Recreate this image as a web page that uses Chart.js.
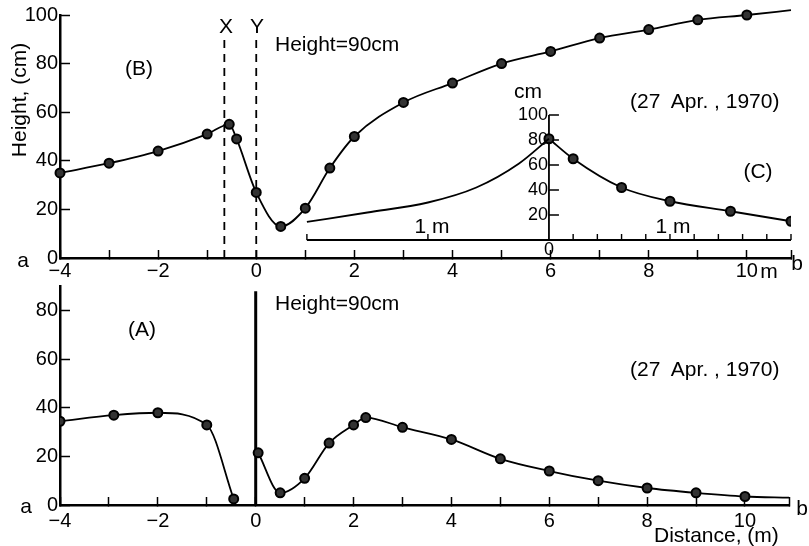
<!DOCTYPE html>
<html>
<head>
<meta charset="utf-8">
<script src="https://cdn.jsdelivr.net/npm/chart.js@4.4.1/dist/chart.umd.min.js"></script>
<style>
body { margin: 0; background: #fff; }
#wrap { position: relative; width: 809px; height: 546px; font-family: "Liberation Sans", Arial, sans-serif; color: #000; }
canvas { position: absolute; left: 0; }
.t { position: absolute; font-size: 21px; line-height: 1; white-space: pre; transform: translate(-50%, -50%); }
.l { transform: translate(0, -50%); }
</style>
</head>
<body>
<div id="wrap">
  <canvas id="topChart" width="809" height="280" style="top:0"></canvas>
  <canvas id="bottomChart" width="809" height="266" style="top:280px"></canvas>

  <div class="t" style="left:18px;top:100px;transform:translate(-50%,-50%) rotate(-90deg)">Height, (cm)</div>
  <div class="t" style="left:139px;top:67px">(B)</div>
  <div class="t" style="left:226px;top:25px">X</div>
  <div class="t" style="left:257px;top:25px">Y</div>
  <div class="t l" style="left:275px;top:43px">Height=90cm</div>
  <div class="t l" style="left:630px;top:100px">(27  Apr. , 1970)</div>
  <div class="t" style="left:758px;top:170px">(C)</div>
  <div class="t" style="left:528px;top:90px">cm</div>
  <div class="t" style="left:432px;top:225px">1 m</div>
  <div class="t" style="left:673px;top:225px">1 m</div>
  <div class="t" style="left:23px;top:259px">a</div>
  <div class="t" style="left:797px;top:262px">b</div>
  <div class="t" style="left:769px;top:270px">m</div>

  <div class="t" style="left:142px;top:328px">(A)</div>
  <div class="t l" style="left:275px;top:302px">Height=90cm</div>
  <div class="t l" style="left:630px;top:368px">(27  Apr. , 1970)</div>
  <div class="t" style="left:26px;top:505px">a</div>
  <div class="t" style="left:802px;top:507px">b</div>
  <div class="t l" style="left:654px;top:534px">Distance, (m)</div>
</div>

<script>
// tick values
const distTicks = [-4, -3, -2, -1, 0, 1, 2, 3, 4, 5, 6, 7, 8, 9, 10, 10.9];
const heightTicks = [0, 10, 20, 30, 40, 50, 60, 70, 80, 90, 100];
const insetTicksX = [-2, -1, 0.2, 0.4, 0.6, 0.8, 1, 1.2, 1.4, 1.6, 1.8, 2];
const insetTicksY = [20, 40, 60, 80, 100];

// (B) profile, top panel
const distB = [-4, -3, -2, -1, -0.55, -0.4, 0, 0.5, 1, 1.5, 2, 3, 4, 5, 6, 7, 8, 9, 10, 10.9];
const heightB = [35, 39, 44, 51, 55, 49, 27, 13, 20.5, 37, 50, 64, 72, 80, 85, 90.5, 94, 98, 100, 102];

// (C) inset, cm against m around the bush
const distCL = [-2, -1.5, -1, -0.6, -0.25, 0];
const heightCL = [14.5, 22, 30, 42, 61, 81];
const distCR = [0, 0.2, 0.6, 1, 1.5, 2];
const heightCR = [81, 65, 42, 31, 23, 15];

// (A) profile, bottom panel (two pieces)
const distA1 = [-4, -2.9, -2, -1, -0.45];
const heightA1 = [34.5, 37, 38, 33, 2.5];
const distA2 = [0.05, 0.5, 1, 1.5, 2, 2.25, 3, 4, 5, 6, 7, 8, 9, 10, 10.9];
const heightA2 = [21.5, 5, 11, 25.5, 33, 36, 32, 27, 19, 14, 10, 7, 5, 3.5, 3];

// X, Y marker lines and wall
const lineX = -0.65, lineY = 0, lineTop = 92;
const wallX = 0, wallTop = 88;

Chart.defaults.font.family = '"Liberation Sans", Arial, sans-serif';
Chart.defaults.font.size = 20;
Chart.defaults.color = '#000';

const pts = (xs, ys) => xs.map((x, i) => ({ x: x, y: ys[i] }));
const fmt = v => String(v).replace('-', '\u2212');
const noEnd = n => ctx => (ctx.dataIndex === n - 1 ? 0 : 4.5);

function profile(xs, ys, extra) {
  return Object.assign({
    data: pts(xs, ys),
    borderColor: '#000',
    borderWidth: 1.8,
    pointRadius: 4.5,
    pointBackgroundColor: '#333',
    pointBorderColor: '#000',
    pointBorderWidth: 2,
    cubicInterpolationMode: 'monotone',
    fill: false,
  }, extra || {});
}

function vline(x, top, dash, width) {
  return {
    data: [{ x: x, y: 0 }, { x: x, y: top }],
    borderColor: '#000',
    borderWidth: width,
    borderDash: dash,
    pointRadius: 0,
    tension: 0,
  };
}

function flatPad(s) {
  s.paddingTop = 0; s.paddingBottom = 0; s.paddingLeft = 0; s.paddingRight = 0;
}

function xAxis(h, pad) {
  return {
    type: 'linear', min: -4, max: 10.9,
    afterBuildTicks: s => { s.ticks = distTicks.map(v => ({ value: v })); },
    afterFit: s => { s.height = h; flatPad(s); },
    ticks: { padding: pad, autoSkip: false, maxRotation: 0,
      callback: v => (v % 2 === 0 ? fmt(v) : '') },
    grid: { drawOnChartArea: false, tickLength: -8, tickWidth: 1.5, tickColor: '#000' },
    border: { color: '#000', width: 2.5 },
  };
}

function yAxis(max) {
  return {
    type: 'linear', min: 0, max: max,
    afterBuildTicks: s => { s.ticks = heightTicks.filter(v => v <= max).map(v => ({ value: v })); },
    afterFit: s => { s.width = 60; flatPad(s); },
    ticks: { padding: 12, callback: v => (v % 20 === 0 ? String(v) : '') },
    grid: { drawOnChartArea: false, tickLength: -10, tickWidth: 1.5, tickColor: '#000' },
    border: { color: '#000', width: 2.5 },
  };
}

const insetAxes = {
  id: 'insetAxes',
  beforeDatasetsDraw(chart) {
    const xC = chart.scales.xC, yC = chart.scales.yC;
    if (!xC) return;
    const ctx = chart.ctx;
    const x0 = xC.getPixelForValue(0), y0 = yC.getPixelForValue(0);
    ctx.save();
    ctx.strokeStyle = '#000';
    ctx.lineWidth = 1.8;
    ctx.beginPath();
    ctx.moveTo(xC.getPixelForValue(insetTicksX[0]), y0);
    ctx.lineTo(xC.getPixelForValue(insetTicksX[insetTicksX.length - 1]), y0);
    ctx.moveTo(x0, y0);
    ctx.lineTo(x0, yC.getPixelForValue(100));
    ctx.stroke();
    ctx.lineWidth = 1.4;
    ctx.beginPath();
    insetTicksX.forEach(v => {
      const px = xC.getPixelForValue(v);
      ctx.moveTo(px, y0); ctx.lineTo(px, y0 - 6);
    });
    insetTicksY.forEach(v => {
      const py = yC.getPixelForValue(v);
      ctx.moveTo(x0, py); ctx.lineTo(x0 + 10, py);
    });
    ctx.stroke();
    ctx.fillStyle = '#000';
    ctx.font = '18px "Liberation Sans", Arial, sans-serif';
    ctx.textAlign = 'right';
    ctx.textBaseline = 'middle';
    insetTicksY.forEach(v => ctx.fillText(String(v), x0 - 1, yC.getPixelForValue(v)));
    ctx.textAlign = 'center';
    ctx.fillText('0', x0, y0 + 10);
    ctx.restore();
  }
};

const common = {
  responsive: false,
  animation: false,
  devicePixelRatio: 1,
  plugins: { legend: { display: false }, tooltip: { enabled: false } },
};

new Chart(document.getElementById('topChart'), {
  type: 'line',
  data: {
    datasets: [
      profile(distB, heightB, { pointRadius: noEnd(distB.length), clip: false }),
      vline(lineX, lineTop, [8, 6], 1.8),
      vline(lineY, lineTop, [8, 6], 1.8),
      profile(distCL, heightCL, { pointRadius: 0, xAxisID: 'xC', yAxisID: 'yC' }),
      profile(distCR, heightCR, { xAxisID: 'xC', yAxisID: 'yC' }),
    ],
  },
  options: Object.assign({}, common, {
    layout: { padding: { top: 15, right: 18, left: 0, bottom: 0 } },
    scales: {
      x: xAxis(22, 9),
      y: yAxis(100),
      xC: { type: 'linear', display: false, min: -4.04, max: 2 },
      yC: { type: 'linear', display: false, min: -14.4, max: 180 },
    },
  }),
  plugins: [insetAxes],
});

new Chart(document.getElementById('bottomChart'), {
  type: 'line',
  data: {
    datasets: [
      profile(distA1, heightA1),
      profile(distA2, heightA2, { pointRadius: noEnd(distA2.length) }),
      vline(wallX, wallTop, [], 3),
    ],
  },
  options: Object.assign({}, common, {
    layout: { padding: { top: 3, right: 20, left: 0, bottom: 0 } },
    scales: {
      x: xAxis(41, 12),
      y: yAxis(90),
    },
  }),
});
</script>
</body>
</html>
